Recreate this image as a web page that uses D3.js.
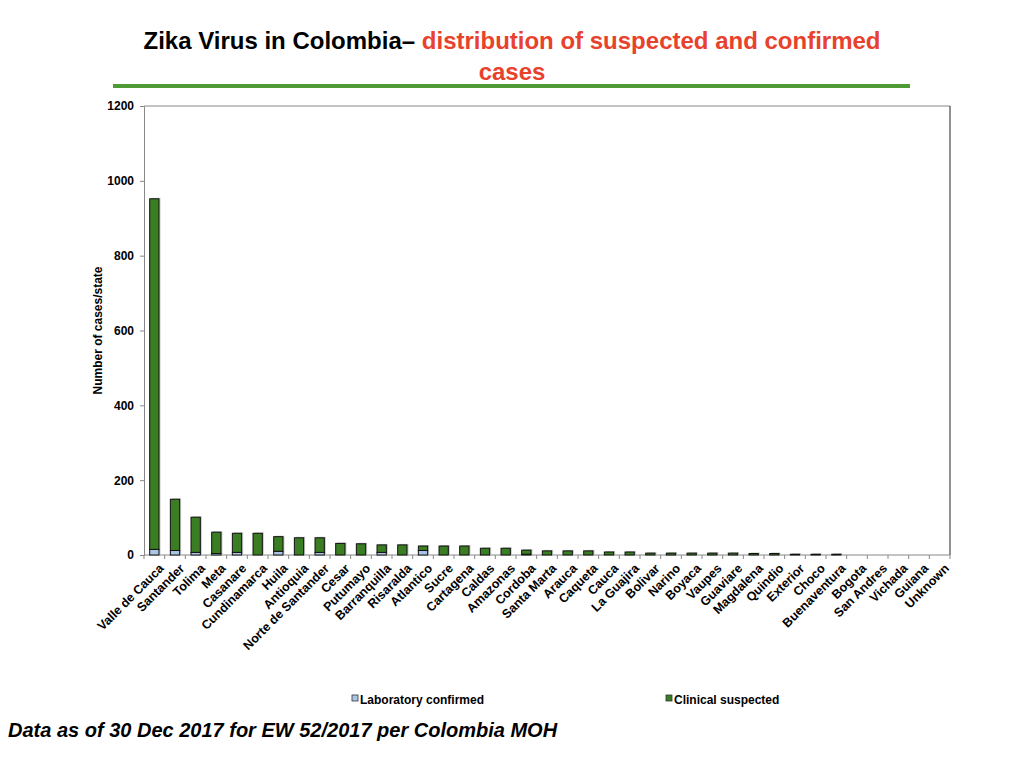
<!DOCTYPE html>
<html>
<head>
<meta charset="utf-8">
<script src="https://d3js.org/d3.v7.min.js"></script>
<style>
  body { margin: 0; background: #fff; }
  text { font-family: "Liberation Sans", Arial, sans-serif; }
</style>
</head>
<body>
<svg id="chart" width="1024" height="768"></svg>
<script>
// Zika cases per state
var states = ["Valle de Cauca", "Santander", "Tolima", "Meta", "Casanare", "Cundinamarca", "Huila",
  "Antioquia", "Norte de Santander", "Cesar", "Putumayo", "Barranquilla", "Risaralda", "Atlantico",
  "Sucre", "Cartagena", "Caldas", "Amazonas", "Cordoba", "Santa Marta", "Arauca", "Caqueta", "Cauca",
  "La Guajira", "Bolivar", "Narino", "Boyaca", "Vaupes", "Guaviare", "Magdalena", "Quindio",
  "Exterior", "Choco", "Buenaventura", "Bogota", "San Andres", "Vichada", "Guiana", "Unknown"];
var labConfirmed = [15, 12, 7, 4, 7, 0, 10, 0, 7, 0, 0, 7, 0, 12, 0, 0, 0, 0, 2, 0, 0, 0, 0,
  0, 0, 0, 0, 0, 0, 0, 0, 0, 0, 0, 0, 0, 0, 0, 0];
var clinSuspected = [937, 137, 94, 57, 51, 58, 39, 46, 39, 31, 30, 20, 27, 12, 24, 24, 18, 18, 11, 11, 11, 11, 8,
  8, 5, 5, 5, 5, 5, 4, 4, 2, 2, 2, 0, 0, 0, 0, 0];
var yTicks = [0, 200, 400, 600, 800, 1000, 1200];
var seriesNames = ["Laboratory confirmed", "Clinical suspected"];
var seriesColors = ["#a9c6e6", "#3b7d23"];

var svg = d3.select("#chart");
var font = "'Liberation Sans', Arial, sans-serif";

// title
var title = svg.append("text")
    .attr("x", 512).attr("y", 49)
    .attr("text-anchor", "middle")
    .style("font-size", "24px").style("font-weight", "bold");
title.append("tspan").attr("fill", "#000").text("Zika Virus in Colombia\u2013  ");
title.append("tspan").attr("fill", "#e8412c").text("distribution of suspected and confirmed");
svg.append("text")
    .attr("x", 512).attr("y", 80)
    .attr("text-anchor", "middle")
    .attr("fill", "#e8412c")
    .style("font-size", "24px").style("font-weight", "bold")
    .text("cases");
svg.append("line")
    .attr("x1", 113).attr("x2", 910).attr("y1", 86).attr("y2", 86)
    .attr("stroke", "#4f9a37").attr("stroke-width", 4);

var margin = { top: 106, right: 74, bottom: 213, left: 144 },
    width = 1024 - margin.left - margin.right,
    height = 768 - margin.top - margin.bottom;

var g = svg.append("g").attr("transform", "translate(" + margin.left + "," + margin.top + ")");

var x = d3.scaleBand().domain(states).range([0, width]).paddingInner(0.55).paddingOuter(0.275);
var y = d3.scaleLinear().domain([0, 1200]).range([height, 0]);

// frame
g.append("line").attr("x1", 0).attr("x2", width).attr("y1", 0).attr("y2", 0).attr("stroke", "#888");
g.append("line").attr("x1", width).attr("x2", width).attr("y1", 0).attr("y2", height).attr("stroke", "#222");

// y axis
var yAxis = g.append("g").call(d3.axisLeft(y).tickValues(yTicks).tickFormat(d3.format("d"))
    .tickSize(4).tickPadding(6));
yAxis.select(".domain").attr("stroke", "#888");
yAxis.selectAll(".tick line").attr("stroke", "#888");
yAxis.selectAll("text").style("font-size", "12px").style("font-weight", "bold").attr("fill", "#000")
    .style("font-family", font);

svg.append("text")
    .attr("transform", "translate(102," + (margin.top + height / 2) + ") rotate(-90)")
    .attr("text-anchor", "middle")
    .style("font-size", "12px").style("font-weight", "bold")
    .text("Number of cases/state");

// x axis: ticks between categories
var step = x.step();
var xAxis = g.append("g").attr("transform", "translate(0," + height + ")");
xAxis.append("line").attr("x1", 0).attr("x2", width).attr("stroke", "#888");
xAxis.selectAll(".sep").data(d3.range(states.length + 1)).enter().append("line")
    .attr("x1", function (i) { return i * step; })
    .attr("x2", function (i) { return i * step; })
    .attr("y1", 0).attr("y2", 4).attr("stroke", "#888");
xAxis.selectAll(".lbl").data(states).enter().append("text")
    .attr("text-anchor", "end")
    .attr("transform", function (d) {
        return "translate(" + (x(d) + x.bandwidth() / 2 + 4) + ",8) rotate(-45)";
    })
    .attr("dy", "0.7em")
    .style("font-size", "12.5px").style("font-weight", "bold")
    .text(function (d) { return d; });

// stacked bars
var rows = states.map(function (s, i) {
    return { state: s, confirmed: labConfirmed[i], suspected: clinSuspected[i] };
});
var stack = d3.stack().keys(["confirmed", "suspected"])(rows);

// soft shadow behind each bar
g.selectAll(".shadow").data(rows.filter(function (d) { return d.confirmed + d.suspected > 0; }))
    .enter().append("rect")
    .attr("x", function (d) { return x(d.state) + 1.5; })
    .attr("y", function (d) { return y(d.confirmed + d.suspected) - 1; })
    .attr("width", x.bandwidth())
    .attr("height", function (d) { return height - y(d.confirmed + d.suspected) + 1; })
    .attr("fill", "#c8c8c8");

stack.forEach(function (layer, k) {
    g.selectAll(".bar" + k).data(layer.filter(function (d) { return d[1] > d[0]; }))
        .enter().append("rect")
        .attr("x", function (d) { return x(d.data.state); })
        .attr("y", function (d) { return y(d[1]); })
        .attr("width", x.bandwidth())
        .attr("height", function (d) { return y(d[0]) - y(d[1]); })
        .attr("fill", seriesColors[k])
        .attr("stroke", "#111").attr("stroke-width", 1);
});

// legend
var legendX = [352, 666];
seriesNames.forEach(function (name, i) {
    var lg = svg.append("g").attr("transform", "translate(" + legendX[i] + ",700)");
    lg.append("rect").attr("x", 0).attr("y", -5).attr("width", 6).attr("height", 6)
        .attr("fill", seriesColors[i]).attr("stroke", "#333").attr("stroke-width", 0.8);
    lg.append("text").attr("x", 8).attr("y", 4)
        .style("font-size", "12px").style("font-weight", "bold").text(name);
});

// footnote
svg.append("text")
    .attr("x", 8).attr("y", 737)
    .style("font-size", "20px").style("font-weight", "bold").style("font-style", "italic")
    .text("Data as of 30 Dec 2017 for EW 52/2017 per Colombia MOH");
</script>
</body>
</html>
